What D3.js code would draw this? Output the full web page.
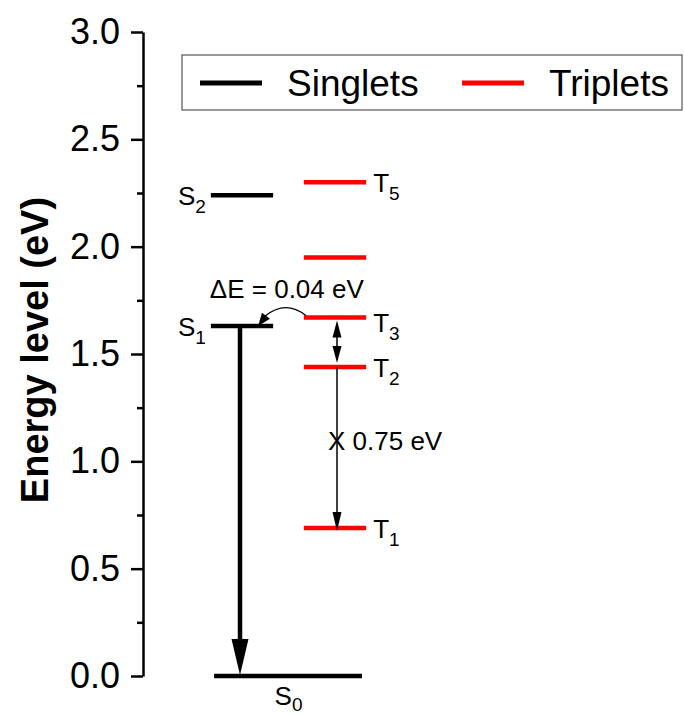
<!DOCTYPE html>
<html>
<head>
<meta charset="utf-8">
<script src="https://cdn.jsdelivr.net/npm/d3@7"></script>
<style>
  body { margin: 0; background: #fff; }
  text { font-family: Arial, "Liberation Sans", sans-serif; }
</style>
</head>
<body>
<script>
// niveles de energia (eV)
var singletNames = ["S0", "S1", "S2"];
var singletEnergies = [0, 1.63, 2.24];
var tripletNames = ["T1", "T2", "T3", "T4", "T5"];
var tripletEnergies = [0.69, 1.44, 1.67, 1.95, 2.30];
var tripletLabels = ["T1", "T2", "T3", "", "T5"];
var majorTicks = [0, 0.5, 1.0, 1.5, 2.0, 2.5, 3.0];
var minorTicks = [0.25, 0.75, 1.25, 1.75, 2.25, 2.75];
var legendNames = ["Singlets", "Triplets"];
var legendColors = ["#000000", "#ff0000"];
var deltaText = "\u0394E = 0.04 eV";
var gapText = "X 0.75 eV";

var w = 684;
var h = 715;

var svg = d3.select("body")
            .append("svg")
            .attr("width", w)
            .attr("height", h);

// escalas
var yScale = d3.scaleLinear()
            .domain([0, 3])
            .range([676, 32]);

// columna 1 = singletes, columna 2 = tripletes
var xScale = d3.scaleLinear()
            .domain([0, 6])
            .range([149, 707]);

var half = 0.335; // media anchura de cada nivel (unidades de x)

// eje y
var yAxis = d3.axisLeft(yScale)
    .tickValues(majorTicks)
    .tickFormat(d3.format(".1f"))
    .tickSize(12)
    .tickSizeOuter(0)
    .tickPadding(11);

var yMinor = d3.axisLeft(yScale)
    .tickValues(minorTicks)
    .tickFormat("")
    .tickSize(6)
    .tickSizeOuter(0);

svg.append("g")
    .attr("transform", "translate(143,0)")
    .call(yMinor)
    .call(function(g) { g.select(".domain").remove(); })
    .selectAll("line").attr("stroke-width", 2.5);

var ax = svg.append("g")
    .attr("transform", "translate(143,0)")
    .call(yAxis);
ax.select(".domain").attr("stroke-width", 2.5);
ax.selectAll(".tick line").attr("stroke-width", 2.5);
ax.selectAll(".tick text")
    .attr("font-size", "36px")
    .attr("font-family", "Arial, 'Liberation Sans', sans-serif")
    .attr("fill", "#000");

// titulo del eje
svg.append("text")
    .attr("transform", "translate(48,350) rotate(-90)")
    .attr("text-anchor", "middle")
    .attr("font-size", "38px")
    .attr("font-weight", "bold")
    .text("Energy level (eV)");

// niveles singlete (S0 ocupa ambas columnas)
svg.selectAll(".singlet")
    .data(singletEnergies)
    .enter()
    .append("line")
    .attr("class", "singlet")
    .attr("x1", function(d, i) { return i === 0 ? xScale(0.7) : xScale(1 - half); })
    .attr("x2", function(d, i) { return i === 0 ? xScale(2.29) : xScale(1 + half); })
    .attr("y1", function(d) { return yScale(d); })
    .attr("y2", function(d) { return yScale(d); })
    .attr("stroke", legendColors[0])
    .attr("stroke-width", 4.5);

svg.selectAll(".triplet")
    .data(tripletEnergies)
    .enter()
    .append("line")
    .attr("class", "triplet")
    .attr("x1", xScale(2 - half))
    .attr("x2", xScale(2 + half))
    .attr("y1", function(d) { return yScale(d); })
    .attr("y2", function(d) { return yScale(d); })
    .attr("stroke", legendColors[1])
    .attr("stroke-width", 4.5);

// etiquetas con subindice
function subLabel(sel, name, sub) {
    sel.append("tspan").text(name.charAt(0));
    sel.append("tspan")
        .attr("font-size", "19px")
        .attr("dy", sub)
        .text(name.slice(1));
}

singletNames.forEach(function(name, i) {
    var t = svg.append("text").attr("font-size", "26px");
    if (i === 0) {
        t.attr("x", xScale(1.5))
         .attr("y", yScale(singletEnergies[i]) + 29)
         .attr("text-anchor", "middle");
        subLabel(t, name, 6);
    } else {
        t.attr("x", xScale(1 - half) - 5)
         .attr("y", yScale(singletEnergies[i]) + 10)
         .attr("text-anchor", "end");
        subLabel(t, name, 8);
    }
});

tripletLabels.forEach(function(name, i) {
    if (name === "") return;
    var t = svg.append("text")
        .attr("font-size", "26px")
        .attr("x", xScale(2 + half) + 7)
        .attr("y", yScale(tripletEnergies[i]) + (name === "T3" ? 14 : 10));
    subLabel(t, name, 8);
});

// flechas
function head(tipX, tipY, dx, dy, len, hw) {
    var n = Math.sqrt(dx * dx + dy * dy);
    var ux = dx / n, uy = dy / n;
    var bx = tipX - ux * len, by = tipY - uy * len;
    var p = [[tipX, tipY], [bx - uy * hw, by + ux * hw], [bx + uy * hw, by - ux * hw]];
    svg.append("path")
        .attr("d", "M" + p.join("L") + "Z")
        .attr("fill", "#000");
}

// S1 -> S0
var ax1 = xScale(1) - 2;
svg.append("line")
    .attr("x1", ax1).attr("x2", ax1)
    .attr("y1", yScale(singletEnergies[1])).attr("y2", yScale(0) - 30)
    .attr("stroke", "#000").attr("stroke-width", 4.5);
head(ax1, yScale(0) - 1, 0, 1, 36, 8.5);

// T3 <-> T2 y T2 -> T1
var ax2 = xScale(2) + 2;
var yT3 = yScale(tripletEnergies[2]), yT2 = yScale(tripletEnergies[1]), yT1 = yScale(tripletEnergies[0]);
svg.append("line")
    .attr("x1", ax2).attr("x2", ax2)
    .attr("y1", yT3 + 8).attr("y2", yT2 - 8)
    .attr("stroke", "#000").attr("stroke-width", 1.5);
head(ax2, yT3 + 3, 0, -1, 17, 4.5);
head(ax2, yT2 - 4, 0, 1, 17, 4.5);
svg.append("line")
    .attr("x1", ax2).attr("x2", ax2)
    .attr("y1", yT2).attr("y2", yT1 - 10)
    .attr("stroke", "#000").attr("stroke-width", 1.5);
head(ax2, yT1 + 3, 0, 1, 19, 4.5);

// flecha curva T3 -> S1
var cx0 = xScale(2 - half) + 2, cy0 = yT3 - 2;
var cx1 = xScale(1 + half) - 8, cy1 = yScale(singletEnergies[1]) - 10;
svg.append("path")
    .attr("d", "M" + cx0 + "," + cy0 + " Q" + (cx0 + cx1) / 2 + "," + (cy0 - 16) + " " + cx1 + "," + cy1)
    .attr("fill", "none")
    .attr("stroke", "#000")
    .attr("stroke-width", 1.3);
head(cx1 - 7, cy1 + 10, -0.6, 0.8, 13, 5);

// textos
svg.append("text")
    .attr("x", xScale(1 - half) - 1)
    .attr("y", yT3 - 20)
    .attr("font-size", "26px")
    .text(deltaText);

svg.append("text")
    .attr("x", ax2 - 9)
    .attr("y", (yT2 + yT1) / 2 + 3)
    .attr("font-size", "26px")
    .text(gapText);

// leyenda
var legend = svg.append("g");
legend.append("rect")
    .attr("x", 182).attr("y", 55)
    .attr("width", 500).attr("height", 55)
    .attr("fill", "#fff")
    .attr("stroke", "#555")
    .attr("stroke-width", 1.2);

var legX = [200, 462];
legendNames.forEach(function(name, i) {
    legend.append("line")
        .attr("x1", legX[i]).attr("x2", legX[i] + 62)
        .attr("y1", 83).attr("y2", 83)
        .attr("stroke", legendColors[i])
        .attr("stroke-width", 5);
    legend.append("text")
        .attr("x", legX[i] + 87)
        .attr("y", 96)
        .attr("font-size", "37px")
        .text(name);
});
</script>
</body>
</html>
